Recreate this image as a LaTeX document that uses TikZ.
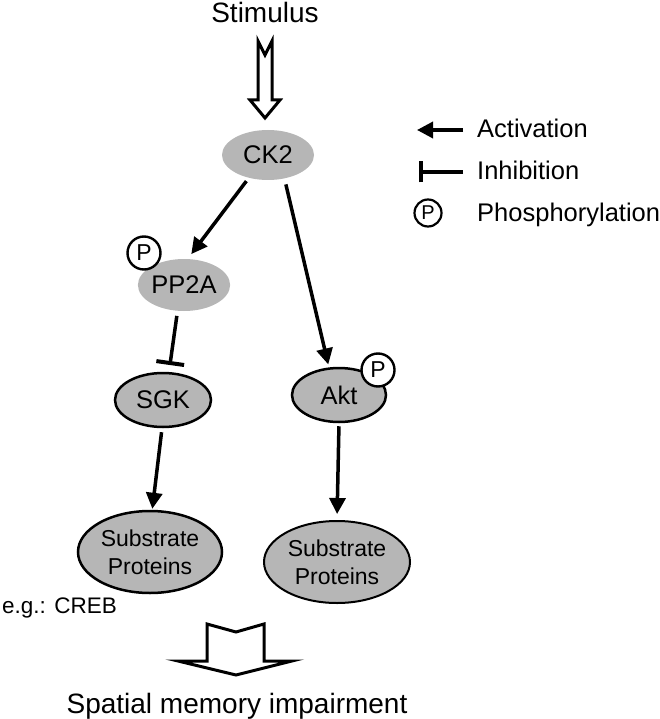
\documentclass[tikz,border=0pt]{standalone}
\usepackage{fontspec}
\setmainfont{Liberation Sans}
\usetikzlibrary{shapes.geometric,arrows.meta}
\definecolor{protgray}{RGB}{182,182,182}
\begin{document}
\begin{tikzpicture}[x=1pt,y=-1pt,
  prot/.style={ellipse,fill=protgray,inner sep=0pt,font=\fontsize{25.5}{30}\selectfont},
  protb/.style={prot,draw=black,line width=2.5pt},
  pcirc/.style={circle,draw=black,line width=2.4pt,fill=white,inner sep=0pt,minimum size=33pt,font=\fontsize{23}{26}\selectfont},
  act/.style={line width=3.5pt,-{Triangle[length=16pt,width=16pt]}},
  inh/.style={line width=3.5pt,-{Bar[width=28pt,line width=4pt]}},
  inhleg/.style={line width=3.5pt,-{Bar[width=21pt,line width=4pt]}},
  hollow/.style={draw=black,line width=3pt,fill=white,line join=miter},
  lbl/.style={anchor=base west,inner sep=0pt,font=\fontsize{25.5}{30}\selectfont},
  big/.style={anchor=base,inner sep=0pt,font=\fontsize{28}{32}\selectfont}
]
\useasboundingbox (0,0) rectangle (660,719);

% title and hollow arrow
\node[big] (stim) at (265,23) {Stimulus};
\draw[hollow] (258,41) -- (265,55) -- (272,41) -- (272,100) -- (280,100) -- (265,118) -- (250,100) -- (258,100) -- cycle;

% proteins
\node[prot,minimum width=92pt,minimum height=50pt] (ck2) at (268,155) {CK2};
\node[prot,minimum width=92pt,minimum height=52pt] (pp2a) at (184,285) {PP2A};
\node[protb,minimum width=96pt,minimum height=54pt] (sgk) at (163,400) {SGK};
\node[protb,minimum width=94pt,minimum height=54pt] (akt) at (339,395) {Akt};
\node[protb,minimum width=144pt,minimum height=82pt,align=center,font=\fontsize{23}{28}\selectfont] (sub1) at (150,552) {Substrate\\Proteins};
\node[protb,line width=2pt,minimum width=146pt,minimum height=82pt,align=center,font=\fontsize{23}{28}\selectfont] (sub2) at (337,562) {Substrate\\Proteins};

% phosphorylation marks
\node[pcirc] (p1) at (144,253) {P};
\node[pcirc] (p2) at (378,370) {P};

% connectors
\draw[act,shorten <=4pt,shorten >=6pt] (ck2.230) -- (pp2a.82);
\draw[act,shorten <=6pt,shorten >=3pt] (ck2.305) -- (akt.110);
\draw[inh,shorten <=5pt,shorten >=7pt] (pp2a.256) -- (sgk.78);
\draw[act,shorten <=4pt,shorten >=1pt] (sgk.268) -- (sub1.87);
\draw[act,shorten <=3pt,shorten >=6pt] (akt.270) -- (sub2.90);

% example label
\node[anchor=base west,inner sep=0pt,font=\fontsize{22.5}{27}\selectfont] (creb) at (2,613) {e.g.: CREB};

% output arrow and label
\draw[hollow] (207,624) -- (236,632) -- (264,624) -- (264,661) -- (292,661) -- (236,675) -- (178,661) -- (207,661) -- cycle;
\node[big] (out) at (237,713) {Spatial memory impairment};

% legend
\coordinate (la1) at (463,130);
\coordinate (la2) at (417,130);
\draw[act] (la1) -- (la2);
\node[lbl] (lact) at (477,138) {Activation};
\coordinate (li1) at (463,172);
\coordinate (li2) at (419,172);
\draw[inhleg] (li1) -- (li2);
\node[lbl] (linh) at (477,180) {Inhibition};
\node[circle,draw=black,line width=2.2pt,fill=white,inner sep=0pt,minimum size=27pt,font=\fontsize{20}{22}\selectfont] (lp) at (428,213) {P};
\node[lbl] (lph) at (477,222) {Phosphorylation};
\end{tikzpicture}
\end{document}
